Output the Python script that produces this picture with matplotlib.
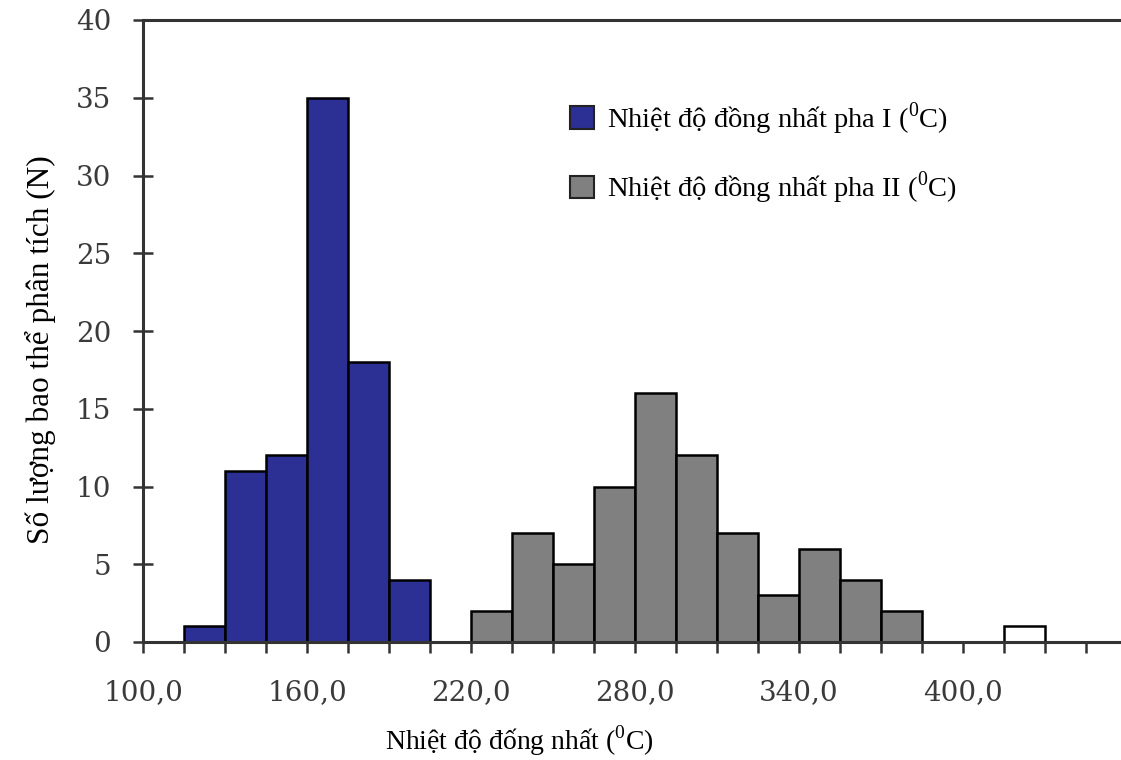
import numpy as np
import matplotlib.pyplot as plt
from matplotlib.patches import Patch

# Histogram counts per 15-degree bin (left bin edges)
pha1_edges = [115, 130, 145, 160, 175, 190]
pha1_counts = [1, 11, 12, 35, 18, 4]
pha2_edges = [220, 235, 250, 265, 280, 295, 310, 325, 340, 355, 370]
pha2_counts = [2, 7, 5, 10, 16, 12, 7, 3, 6, 4, 2]
extra_edges = [415]
extra_counts = [1]
bin_width = 15

x_ticks_major = [100, 160, 220, 280, 340, 400]
x_tick_labels = ['100,0', '160,0', '220,0', '280,0', '340,0', '400,0']
y_ticks = [0, 5, 10, 15, 20, 25, 30, 35, 40]

label_1 = 'Nhiệt độ đồng nhất pha I ($^0$C)'
label_2 = 'Nhiệt độ đồng nhất pha II ($^0$C)'

plt.rcParams['font.family'] = ['Liberation Serif', 'DejaVu Serif']
plt.rcParams['mathtext.fontset'] = 'custom'
plt.rcParams['mathtext.rm'] = 'Liberation Serif'

BLUE = '#2c2f94'
GRAY = '#808080'
AXIS = '#333333'

fig = plt.figure(figsize=(11.21, 7.60), dpi=100)
ax = fig.add_axes([143 / 1121, 118 / 760, 978 / 1121, 622 / 760])

ax.bar(pha1_edges, pha1_counts, width=bin_width, align='edge',
       color=BLUE, edgecolor='black', linewidth=1.8, zorder=2)
ax.bar(pha2_edges, pha2_counts, width=bin_width, align='edge',
       color=GRAY, edgecolor='black', linewidth=1.8, zorder=2)
ax.bar(extra_edges, extra_counts, width=bin_width, align='edge',
       color='white', edgecolor='black', linewidth=1.8, zorder=2)

ax.set_xlim(100, 100 + 978 / 2.7333)
ax.set_ylim(0, 40)

ax.set_xticks(x_ticks_major)
ax.set_xticklabels(x_tick_labels)
ax.set_xticks(np.arange(100, 460, 15), minor=True)
ax.set_yticks(y_ticks)

for lbl in ax.get_xticklabels() + ax.get_yticklabels():
    lbl.set_fontfamily('DejaVu Serif')
    lbl.set_fontsize(20)

ax.tick_params(axis='x', which='both', direction='out', length=8, width=1.8,
               color=AXIS, labelcolor='#3a3a3a', pad=19)
ax.tick_params(axis='y', direction='inout', length=14, width=1.8,
               color=AXIS, labelcolor='#3a3a3a', pad=16)

ax.spines['right'].set_visible(False)
for side in ['left', 'top', 'bottom']:
    ax.spines[side].set_linewidth(2.2)
    ax.spines[side].set_color(AXIS)
ax.spines['bottom'].set_zorder(3)

handles = [Patch(facecolor=BLUE, edgecolor='#222222', linewidth=1.5),
           Patch(facecolor=GRAY, edgecolor='#222222', linewidth=1.5)]
ax.legend(handles, [label_1, label_2], loc='upper left',
          bbox_to_anchor=(556 / 1121, 1 - 86 / 760), bbox_transform=fig.transFigure,
          frameon=False, fontsize=20.5, handlelength=0.85, handleheight=0.85,
          handletextpad=0.45, labelspacing=1.15, borderpad=0)

fig.text(519 / 1121, 1 - 741 / 760, 'Nhiệt độ đống nhất ($^0$C)',
         ha='center', va='center', fontsize=20)
fig.text(40 / 1121, 1 - 350 / 760, 'Số lượng bao thể phân tích (N)',
         ha='center', va='center', rotation=90, fontsize=22.5)

fig.savefig('out.png', dpi=100)
